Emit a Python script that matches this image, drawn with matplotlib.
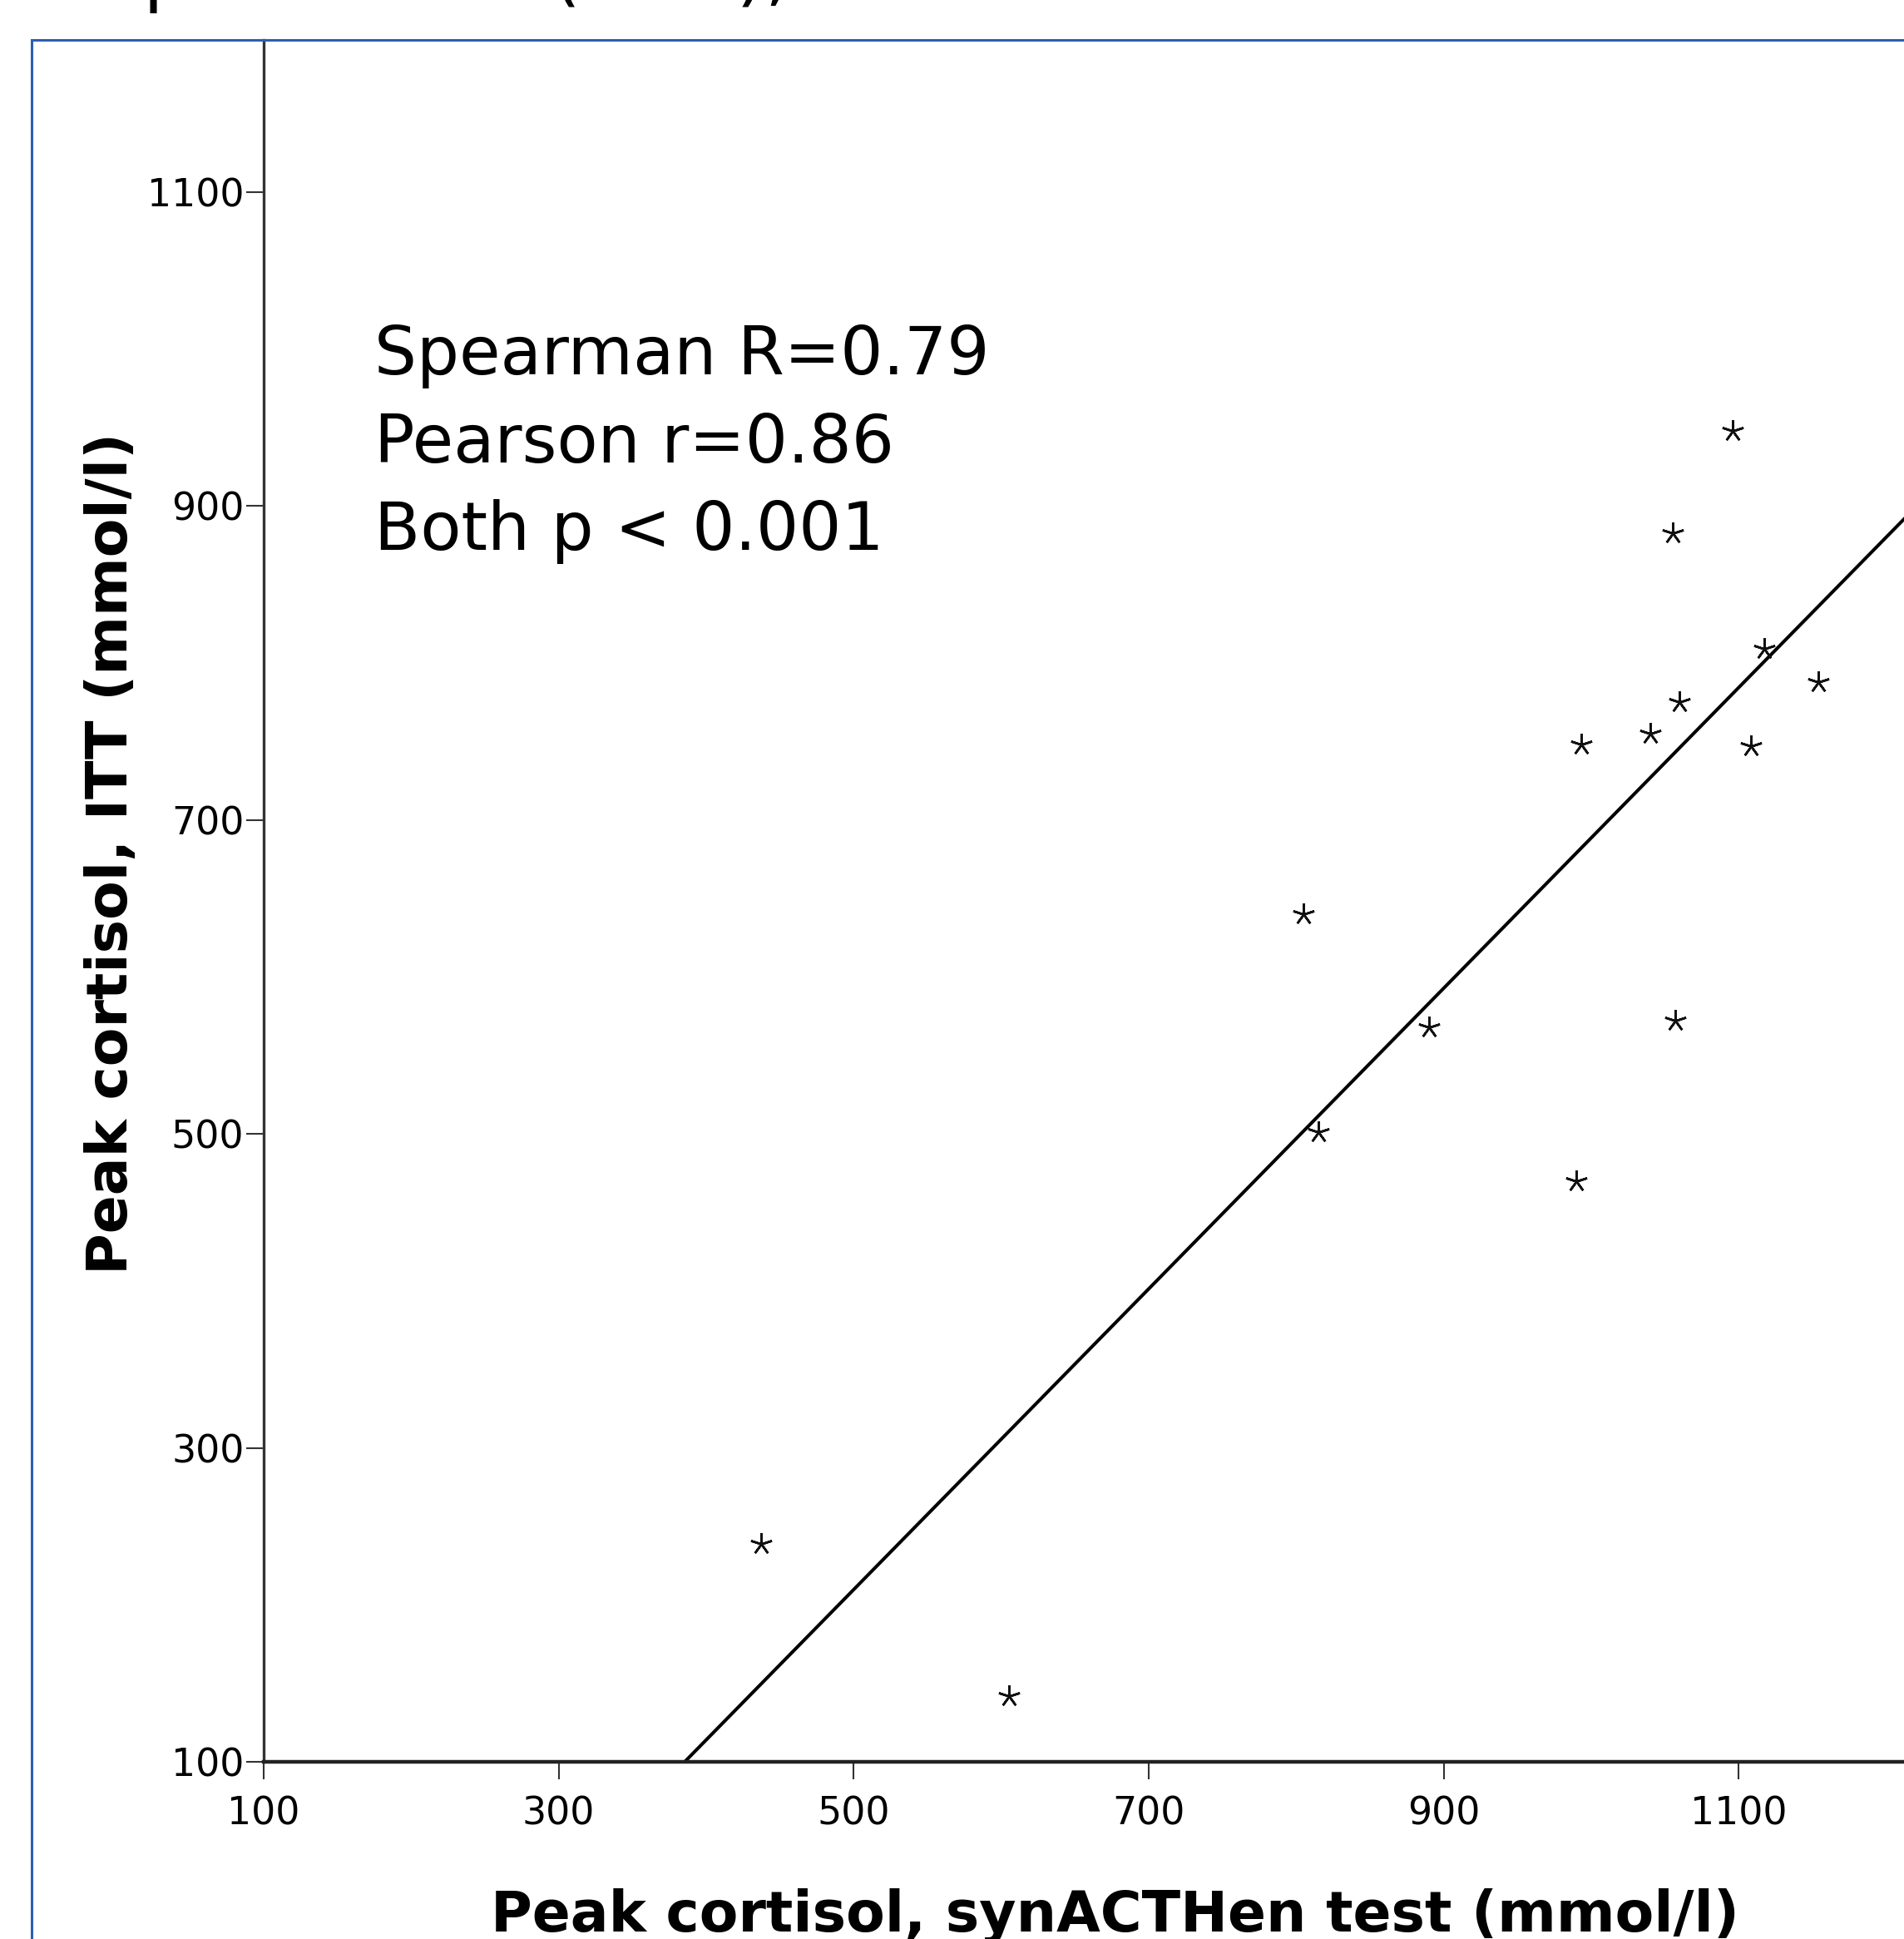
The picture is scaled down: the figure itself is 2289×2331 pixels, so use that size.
import numpy as np
import matplotlib
matplotlib.use("Agg")
import matplotlib.pyplot as plt
from matplotlib.patches import Rectangle

### Data ###

synacthen_peak = [437, 605, 805, 815, 890, 990, 993, 1040, 1055, 1057, 1060, 1096, 1108, 1117, 1154]
itt_peak = [239, 142, 640, 501, 568, 470, 748, 755, 883, 572, 775, 948, 747, 809, 788]

tick_values = [100, 300, 500, 700, 900, 1100]
stats_lines = ["Spearman R=0.79", "Pearson r=0.86", "Both p < 0.001"]
stats_baselines = [984, 928, 872]  # in data units of the y axis

x_label = "Peak cortisol, synACTHen test (mmol/l)"
y_label = "Peak cortisol, ITT (mmol/l)"

### Figure ###

W, H, DPI = 2289, 2331, 100
fig = plt.figure(figsize=(W / DPI, H / DPI), dpi=DPI)
plt.rcParams['font.family'] = ['DejaVu Sans']

# axes placed in pixel terms, the slide crops it on the right
left_px, bottom_px, top_px = 317, 2118, 48
ax = fig.add_axes([left_px / W, 1 - bottom_px / H, 1 - left_px / W, (bottom_px - top_px) / H])

# least squares fit line, like the original
slope, intercept = np.polyfit(synacthen_peak, itt_peak, 1)
xs = np.array([0, 1400])
ax.plot(xs, slope * xs + intercept, color='black', lw=2.9, zorder=2)

ax.plot(synacthen_peak, itt_peak, linestyle='none', marker=(5, 2, 0),
        ms=19, mew=1.9, color='#111111', zorder=3)

ax.set_xlim(100, 1212)
ax.set_ylim(100, 1197)
ax.set_xticks(tick_values)
ax.set_yticks(tick_values)
ax.tick_params(axis='both', direction='out', length=15, width=1.5, labelsize=33, color='#333333')
ax.tick_params(axis='x', pad=14)
ax.tick_params(axis='y', pad=2)

for side in ['top', 'right']:
  ax.spines[side].set_visible(False)
ax.spines['left'].set_linewidth(2.4)
ax.spines['left'].set_color('#333333')
ax.spines['bottom'].set_linewidth(3.2)
ax.spines['bottom'].set_color('#222222')

for line, yb in zip(stats_lines, stats_baselines):
  ax.text(175, yb, line, fontsize=58, va='baseline', ha='left')

fig.text(1341 / W, (H - 2322) / H, x_label, fontsize=49, fontweight='bold',
         ha='center', va='baseline')
fig.text(134 / W, 1 - 1026 / H, y_label, fontsize=49, fontweight='bold',
         rotation=90, ha='center', va='center')

# blue slide frame
fig.patches.append(Rectangle((38 / W, -0.1), 1.2, 1.1 - 48 / H, transform=fig.transFigure,
                             fill=False, edgecolor='#2b5fb0', lw=2.2))

# bottom of the slide title, cut off by the top edge
fig.text(50 / W, 1 + 3 / H, "At peak tests (n=5),", fontsize=64, ha='left', va='baseline')

fig.savefig("out.png", dpi=DPI)
